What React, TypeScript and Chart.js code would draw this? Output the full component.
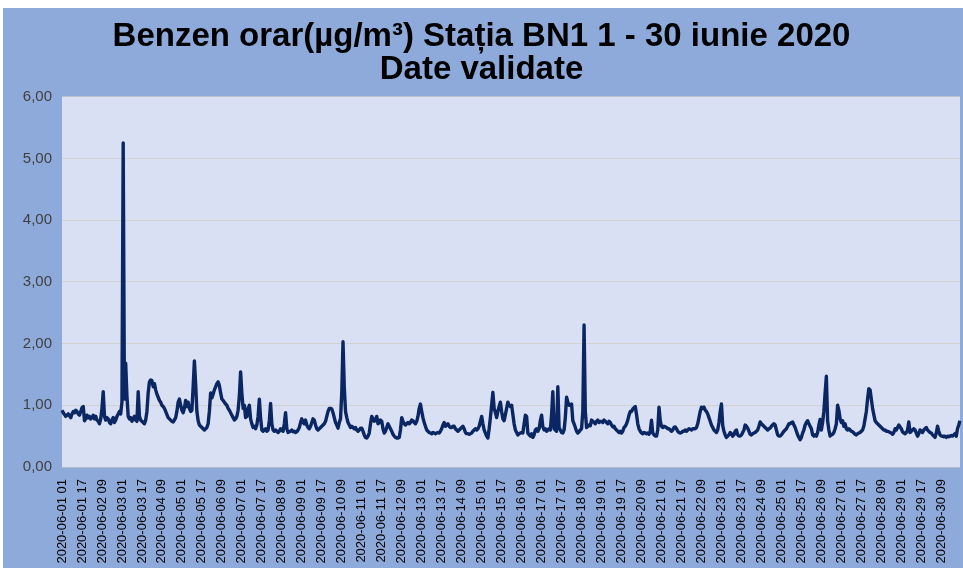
import React, { useEffect, useRef } from "react";
import { Chart, registerables } from "chart.js";

Chart.register(...registerables);

// Hourly benzene values (µg/m³), one array per day, hours 01..24
const day01 = [0.92,0.88,0.85,0.82,0.84,0.86,0.83,0.80,0.86,0.90,0.88,0.92,0.90,0.86,0.84,0.90,0.96,0.98,0.75,0.78,0.84,0.80,0.82,0.78];
const day02 = [0.80,0.84,0.78,0.82,0.76,0.74,0.70,0.78,0.95,1.22,0.82,0.76,0.80,0.78,0.72,0.70,0.76,0.80,0.72,0.76,0.82,0.86,0.90,0.86];
const day03 = [1.05,5.25,1.10,1.68,1.15,0.82,0.78,0.80,0.74,0.78,0.82,0.76,0.74,1.22,0.82,0.76,0.74,0.72,0.70,0.76,0.90,1.20,1.38,1.41];
const day04 = [1.40,1.30,1.35,1.25,1.18,1.13,1.08,1.05,1.00,0.98,0.95,0.90,0.85,0.80,0.78,0.76,0.74,0.73,0.76,0.80,0.90,1.05,1.10,1.00];
const day05 = [0.92,0.88,0.95,1.08,0.98,1.05,0.95,0.90,0.92,1.30,1.72,1.35,0.90,0.75,0.68,0.66,0.64,0.62,0.60,0.62,0.64,0.70,0.90,1.20];
const day06 = [1.12,1.18,1.25,1.30,1.35,1.38,1.32,1.20,1.10,1.08,1.05,1.02,1.00,0.95,0.92,0.88,0.84,0.80,0.76,0.78,0.82,0.92,1.15,1.54];
const day07 = [1.20,0.95,1.00,0.80,0.82,0.95,1.00,0.78,0.70,0.64,0.66,0.62,0.68,0.82,1.10,0.80,0.60,0.58,0.60,0.62,0.58,0.60,0.75,1.03];
const day08 = [0.70,0.60,0.58,0.60,0.58,0.56,0.58,0.62,0.60,0.58,0.70,0.88,0.62,0.56,0.57,0.58,0.60,0.57,0.58,0.56,0.57,0.60,0.64,0.72];
const day09 = [0.78,0.72,0.70,0.76,0.68,0.64,0.62,0.66,0.72,0.78,0.76,0.68,0.62,0.60,0.62,0.64,0.66,0.68,0.70,0.74,0.82,0.90,0.95,0.95];
const day10 = [0.94,0.88,0.80,0.72,0.68,0.63,0.72,0.78,1.20,2.03,1.30,0.90,0.80,0.72,0.68,0.64,0.66,0.64,0.62,0.64,0.60,0.58,0.60,0.63];
const day11 = [0.63,0.58,0.52,0.48,0.47,0.50,0.55,0.70,0.82,0.78,0.74,0.76,0.82,0.70,0.72,0.76,0.74,0.62,0.55,0.58,0.64,0.70,0.66,0.62];
const day12 = [0.58,0.53,0.50,0.48,0.47,0.47,0.48,0.60,0.80,0.74,0.70,0.68,0.70,0.72,0.70,0.72,0.76,0.75,0.72,0.70,0.74,0.82,0.95,1.02];
const day13 = [0.90,0.80,0.72,0.66,0.60,0.58,0.56,0.55,0.54,0.56,0.55,0.54,0.55,0.56,0.55,0.58,0.62,0.68,0.72,0.66,0.68,0.70,0.66,0.64];
const day14 = [0.64,0.66,0.66,0.62,0.60,0.58,0.60,0.62,0.64,0.66,0.62,0.56,0.54,0.54,0.53,0.54,0.55,0.58,0.60,0.62,0.60,0.62,0.66,0.74];
const day15 = [0.82,0.70,0.60,0.55,0.50,0.47,0.62,0.80,1.00,1.21,0.95,0.88,0.80,0.90,0.98,1.05,0.90,0.78,0.75,0.85,0.95,1.05,1.00,0.98];
const day16 = [1.00,0.85,0.70,0.60,0.56,0.52,0.54,0.55,0.56,0.55,0.70,0.84,0.82,0.55,0.52,0.50,0.54,0.48,0.52,0.60,0.62,0.58,0.62,0.75];
const day17 = [0.84,0.65,0.60,0.62,0.58,0.60,0.62,0.60,0.85,1.22,0.62,0.60,0.58,1.30,0.64,0.60,0.56,0.55,0.60,0.80,1.13,1.05,1.00,1.00];
const day18 = [1.02,0.75,0.70,0.64,0.58,0.55,0.57,0.60,0.62,0.90,2.30,0.90,0.64,0.66,0.68,0.67,0.76,0.74,0.72,0.70,0.74,0.76,0.72,0.74];
const day19 = [0.74,0.72,0.76,0.74,0.72,0.70,0.74,0.72,0.68,0.65,0.66,0.62,0.60,0.58,0.56,0.58,0.55,0.58,0.64,0.66,0.70,0.76,0.84,0.90];
const day20 = [0.90,0.94,0.96,0.98,0.85,0.70,0.62,0.58,0.55,0.54,0.56,0.55,0.54,0.55,0.53,0.58,0.76,0.55,0.52,0.50,0.50,0.60,0.97,0.75];
const day21 = [0.66,0.64,0.66,0.65,0.64,0.62,0.62,0.60,0.58,0.60,0.64,0.65,0.62,0.58,0.56,0.55,0.56,0.58,0.58,0.60,0.58,0.60,0.62,0.61];
const day22 = [0.60,0.62,0.62,0.62,0.64,0.70,0.80,0.90,0.97,0.95,0.97,0.92,0.90,0.86,0.80,0.74,0.68,0.64,0.60,0.58,0.56,0.60,0.72,0.90];
const day23 = [1.02,0.67,0.58,0.52,0.48,0.50,0.52,0.56,0.54,0.50,0.52,0.58,0.60,0.52,0.50,0.50,0.52,0.56,0.60,0.68,0.66,0.63,0.58,0.53];
const day24 = [0.52,0.54,0.55,0.56,0.58,0.60,0.66,0.73,0.70,0.68,0.66,0.64,0.62,0.60,0.62,0.63,0.66,0.68,0.70,0.68,0.60,0.52,0.50,0.50];
const day25 = [0.52,0.55,0.58,0.60,0.62,0.66,0.70,0.70,0.72,0.73,0.68,0.64,0.58,0.52,0.48,0.44,0.48,0.55,0.60,0.68,0.72,0.75,0.70,0.66];
const day26 = [0.62,0.52,0.50,0.52,0.50,0.56,0.68,0.77,0.60,0.72,0.90,1.20,1.47,0.75,0.60,0.50,0.52,0.53,0.56,0.62,0.70,1.00,0.92,0.78];
const day27 = [0.72,0.75,0.66,0.70,0.62,0.60,0.62,0.60,0.58,0.57,0.55,0.53,0.52,0.54,0.55,0.56,0.58,0.60,0.66,0.78,0.90,1.10,1.27,1.25];
const day28 = [1.10,0.95,0.85,0.75,0.72,0.70,0.68,0.66,0.64,0.62,0.60,0.60,0.58,0.58,0.57,0.56,0.55,0.53,0.56,0.62,0.60,0.64,0.68,0.65];
const day29 = [0.62,0.57,0.55,0.54,0.56,0.60,0.73,0.56,0.58,0.60,0.62,0.60,0.55,0.50,0.54,0.60,0.58,0.56,0.60,0.62,0.64,0.60,0.58,0.56];
const day30 = [0.55,0.52,0.50,0.48,0.55,0.66,0.58,0.52,0.50,0.50,0.49,0.50,0.48,0.50,0.49,0.50,0.51,0.50,0.52,0.54,0.50,0.62,0.68,0.75];

const days = [day01,day02,day03,day04,day05,day06,day07,day08,day09,day10,day11,day12,day13,day14,day15,day16,day17,day18,day19,day20,day21,day22,day23,day24,day25,day26,day27,day28,day29,day30];
const values: number[] = days.flat();

// Category labels: "2020-06-DD HH", hours 01..24
const pad = (n: number) => String(n).padStart(2, "0");
const labels: string[] = [];
days.forEach((d, di) => d.forEach((_, hi) => labels.push(`2020-06-${pad(di + 1)} ${pad(hi + 1)}`)));

const LABEL_STEP = 16;
const titleLines = ["Benzen orar(µg/m³) Stația BN1 1 - 30 iunie 2020", "Date validate"];
const yTicks = { min: 0, max: 6, step: 1 };

const plotBg = {
  id: "plotBg",
  beforeDraw(chart: any) {
    const { ctx, chartArea } = chart;
    if (!chartArea) return;
    ctx.save();
    ctx.fillStyle = "#dae0f3";
    ctx.fillRect(chartArea.left, chartArea.top, chartArea.right - chartArea.left, chartArea.bottom - chartArea.top);
    ctx.restore();
  },
};

export default function App() {
  const ref = useRef<HTMLCanvasElement>(null);
  useEffect(() => {
    if (!ref.current) return;
    Chart.defaults.font.family = "'Liberation Sans', Arial, sans-serif";
    const chart = new Chart(ref.current, {
      type: "line",
      data: {
        labels,
        datasets: [
          {
            data: values,
            borderColor: "#0b2763",
            borderWidth: 3.4,
            pointRadius: 0,
            tension: 0,
            borderJoinStyle: "round",
            fill: false,
          },
        ],
      },
      options: {
        animation: false,
        responsive: true,
        maintainAspectRatio: false,
        layout: { padding: { top: 0, right: 3, bottom: 0, left: 0 } },
        plugins: {
          legend: { display: false },
          tooltip: { enabled: false },
          title: {
            display: true,
            text: titleLines,
            color: "#000",
            font: { size: 33, weight: "bold", lineHeight: 0.98 },
            padding: { top: 13, bottom: 11 },
          },
        },
        scales: {
          x: {
            type: "category",
            offset: false,
            grid: { display: false },
            border: { display: false },
            ticks: {
              autoSkip: false,
              minRotation: 90,
              maxRotation: 90,
              color: "#000",
              font: { size: 13 },
              padding: 4,
              callback: (_v: any, i: number) => (i % LABEL_STEP === 0 ? labels[i] : null),
            },
            afterFit: (s: any) => {
              s.height = 101;
            },
          },
          y: {
            min: yTicks.min,
            max: yTicks.max,
            border: { display: false },
            grid: { color: "rgba(205,200,185,0.6)", drawTicks: false, lineWidth: 1 },
            ticks: {
              stepSize: yTicks.step,
              color: "#404040",
              font: { size: 15 },
              padding: 10,
              callback: (v: any) => Number(v).toFixed(2).replace(".", ","),
            },
            afterFit: (s: any) => {
              s.width = 59;
            },
          },
        },
      },
      plugins: [plotBg],
    });
    return () => chart.destroy();
  }, []);

  return (
    <div
      style={{
        position: "absolute",
        left: 3,
        top: 8,
        width: 960,
        height: 560,
        background: "#8eaadb",
      }}
    >
      <canvas ref={ref} />
    </div>
  );
}
